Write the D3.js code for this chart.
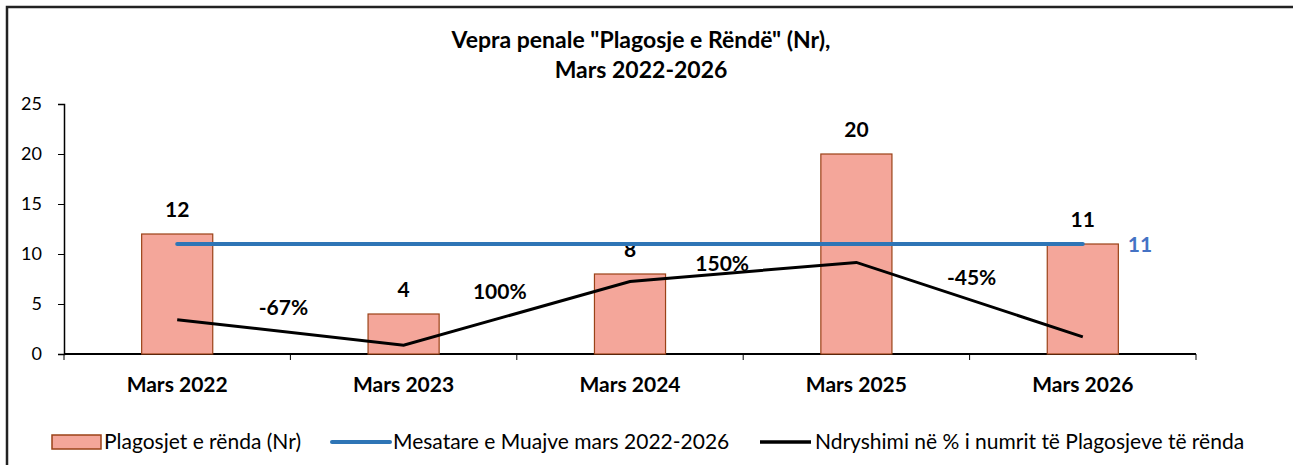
<!DOCTYPE html>
<html>
<head>
<meta charset="utf-8">
<script src="https://cdn.jsdelivr.net/npm/d3@7"></script>
<style>
  body { margin: 0; background: #fff; }
  text { font-family: Lato, "Open Sans", sans-serif; }
</style>
</head>
<body>
<svg width="1293" height="465"></svg>
<script>
// data
var categories = ['Mars 2022', 'Mars 2023', 'Mars 2024', 'Mars 2025', 'Mars 2026']
var counts = [12, 4, 8, 20, 11]
var average = 11
var changePct = [0, -67, 100, 150, -45]
var yTicks = [0, 5, 10, 15, 20, 25]
var titleLines = ['Vepra penale "Plagosje e Rëndë" (Nr),', 'Mars 2022-2026']
var legendLabels = ['Plagosjet e rënda (Nr)', 'Mesatare e Muajve mars 2022-2026', 'Ndryshimi në % i numrit të Plagosjeve të rënda']

// hand nudges for the % labels (they were dragged in the original)
var labelNudge = [[-7, -25], [-17, -22], [-21, -9], [2, -23]]

var svg = d3.select('svg')

// outer frame (cut off at right/bottom in the picture)
svg.append('rect')
  .attr('x', 7).attr('y', 7)
  .attr('width', 1400).attr('height', 600)
  .attr('fill', 'none')
  .attr('stroke', '#222')
  .attr('stroke-width', 2.5)

// title
svg.selectAll('.title')
  .data(titleLines)
  .enter()
  .append('text')
  .attr('x', 641)
  .attr('y', (d, i) => 48 + i * 30)
  .attr('text-anchor', 'middle')
  .style('font-weight', 'bold')
  .style('font-size', '23px')
  .text((d) => d)

var x = d3.scaleBand().domain(categories).range([64, 1196])
var y = d3.scaleLinear().domain([0, 25]).range([354, 104])
// hidden secondary axis for the % change line
var y2 = d3.scaleLinear().domain([-90, 565]).range([354, 104])

var cx = (d) => x(d) + x.bandwidth() / 2
var barW = x.bandwidth() * 0.314

// y axis
var yAxis = svg.append('g')
  .attr('transform', 'translate(64,0)')
  .call(d3.axisLeft(y).tickValues(yTicks).tickSize(6).tickPadding(16))
yAxis.select('.domain').attr('stroke', '#000').attr('stroke-width', 1.5)
yAxis.selectAll('.tick line').attr('stroke', '#000')
yAxis.selectAll('.tick text')
  .style('font-size', '18px')
  .style('font-family', 'Lato, sans-serif')
  .attr('fill', '#000')

// x axis with ticks between categories
svg.append('line')
  .attr('x1', 64).attr('x2', 1196)
  .attr('y1', 354).attr('y2', 354)
  .attr('stroke', '#000').attr('stroke-width', 2)
svg.selectAll('.xtick')
  .data(d3.range(categories.length + 1))
  .enter()
  .append('line')
  .attr('x1', (i) => 64 + i * x.step())
  .attr('x2', (i) => 64 + i * x.step())
  .attr('y1', 354).attr('y2', 360)
  .attr('stroke', '#000')
svg.selectAll('.xlabel')
  .data(categories)
  .enter()
  .append('text')
  .attr('x', cx)
  .attr('y', 392)
  .attr('text-anchor', 'middle')
  .style('font-weight', 'bold')
  .style('font-size', '21px')
  .text((d) => d)

// bars
svg.selectAll('.bar')
  .data(counts)
  .enter()
  .append('rect')
  .attr('x', (d, i) => cx(categories[i]) - barW / 2)
  .attr('y', (d) => y(d))
  .attr('width', barW)
  .attr('height', (d) => y(0) - y(d))
  .attr('fill', '#f4a69a')
  .attr('stroke', '#9a4217')
  .attr('stroke-width', 1.2)

// bar value labels
svg.selectAll('.val')
  .data(counts)
  .enter()
  .append('text')
  .attr('x', (d, i) => cx(categories[i]))
  .attr('y', (d) => y(d) - 17)
  .attr('text-anchor', 'middle')
  .style('font-weight', 'bold')
  .style('font-size', '21px')
  .text((d) => d)

// average line
svg.append('line')
  .attr('x1', cx(categories[0]))
  .attr('x2', cx(categories[categories.length - 1]))
  .attr('y1', y(average)).attr('y2', y(average))
  .attr('stroke', '#2e75b6')
  .attr('stroke-width', 4)
  .attr('stroke-linecap', 'round')
svg.append('text')
  .attr('x', cx(categories[categories.length - 1]) + 45)
  .attr('y', y(average) + 8)
  .style('font-weight', 'bold')
  .style('font-size', '21px')
  .attr('fill', '#4472c4')
  .text(average)

// % change line
var line = d3.line()
  .x((d, i) => cx(categories[i]))
  .y((d) => y2(d))
svg.append('path')
  .datum(changePct)
  .attr('d', line)
  .attr('fill', 'none')
  .attr('stroke', '#000')
  .attr('stroke-width', 3)

svg.selectAll('.pct')
  .data(changePct.slice(1))
  .enter()
  .append('text')
  .attr('x', (d, i) => (cx(categories[i]) + cx(categories[i + 1])) / 2 + labelNudge[i][0])
  .attr('y', (d, i) => (y2(changePct[i]) + y2(d)) / 2 + labelNudge[i][1] + 8)
  .attr('text-anchor', 'middle')
  .style('font-weight', 'bold')
  .style('font-size', '21px')
  .text((d) => d + '%')

// legend
var leg = svg.append('g').attr('transform', 'translate(0,442)')
leg.append('rect')
  .attr('x', 52).attr('y', -7).attr('width', 49).attr('height', 14)
  .attr('fill', '#f4a69a').attr('stroke', '#9a4217').attr('stroke-width', 1.5)
leg.append('line')
  .attr('x1', 332).attr('x2', 390).attr('y1', 0).attr('y2', 0)
  .attr('stroke', '#2e75b6').attr('stroke-width', 4).attr('stroke-linecap', 'round')
leg.append('line')
  .attr('x1', 760).attr('x2', 811).attr('y1', 0).attr('y2', 0)
  .attr('stroke', '#000').attr('stroke-width', 3.5)
leg.selectAll('.lt')
  .data(legendLabels)
  .enter()
  .append('text')
  .attr('x', (d, i) => [104, 393, 815][i])
  .attr('y', 7)
  .style('font-size', '21px')
  .text((d) => d)
</script>
</body>
</html>
